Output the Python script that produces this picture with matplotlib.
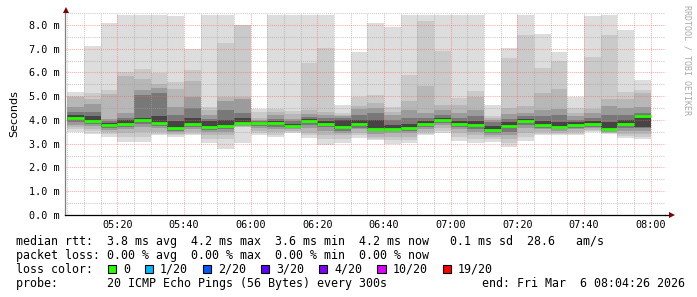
import numpy as np
import pandas as pd
import matplotlib
matplotlib.use("Agg")
import matplotlib.pyplot as plt
import matplotlib.dates as mdates
import matplotlib.ticker as mticker
from matplotlib.patches import Rectangle
from matplotlib.lines import Line2D

# ---------------- data (milliseconds), one value per 5-minute slot ----------------
first_slot = "2026-03-06 05:05"
view_start = "2026-03-06 05:04:26"
view_end = "2026-03-06 08:04:26"

ping_max = [5.17, 7.13, 8.10, 8.42, 8.42, 8.42, 8.38, 6.98, 8.42, 8.42, 8.02, 4.45, 8.42, 8.42, 8.42, 8.42, 4.63, 6.88,
            8.10, 7.93, 8.42, 8.42, 8.42, 8.42, 8.42, 4.63, 7.02, 8.42, 7.62, 6.88, 4.98, 8.38, 8.42, 7.79, 5.68]
ping_19 = [5.01, 5.15, 5.26, 6.00, 6.15, 5.96, 5.61, 6.11, 4.56, 7.23, 8.00, 4.35, 4.45, 4.38, 6.41, 7.02, 4.30, 4.95,
           5.05, 4.53, 5.89, 8.18, 6.92, 4.94, 5.20, 4.17, 6.60, 7.58, 6.18, 6.50, 4.49, 6.67, 7.58, 5.19, 5.26]
ping_18 = [4.95, 4.90, 5.10, 5.87, 5.73, 5.50, 5.30, 5.66, 4.40, 4.95, 4.95, 4.10, 4.35, 4.25, 4.42, 4.35, 4.20, 4.60,
           4.70, 4.35, 4.81, 5.43, 4.63, 4.63, 4.95, 4.08, 4.50, 4.59, 5.12, 5.30, 4.30, 4.45, 4.90, 4.87, 5.15]
ping_16 = [4.56, 4.67, 4.05, 4.30, 5.25, 5.35, 4.56, 4.98, 4.20, 4.80, 4.90, 4.00, 4.20, 4.05, 4.25, 4.20, 4.15, 4.45,
           4.50, 4.20, 4.40, 4.30, 4.42, 4.30, 4.40, 4.00, 4.25, 4.30, 4.40, 4.45, 4.15, 4.30, 4.60, 4.50, 4.56]
ping_14 = [4.35, 4.35, 3.95, 4.10, 5.05, 5.15, 4.20, 4.50, 4.05, 4.40, 4.30, 3.96, 4.05, 3.95, 4.12, 4.08, 4.10, 4.20,
           4.30, 4.02, 4.10, 4.10, 4.20, 4.10, 4.15, 3.90, 4.05, 4.15, 4.15, 4.20, 4.00, 4.10, 4.20, 4.20, 4.30]
ping_12 = [4.20, 4.15, 3.88, 3.98, 4.10, 4.15, 3.95, 4.10, 3.95, 4.00, 4.10, 3.92, 3.95, 3.85, 4.05, 3.95, 4.00, 4.00,
           4.02, 3.80, 3.85, 3.95, 4.07, 3.95, 3.97, 3.75, 3.90, 4.05, 3.95, 3.90, 3.90, 3.95, 3.90, 4.00, 4.20]
median = [4.08, 3.96, 3.78, 3.85, 4.01, 3.87, 3.66, 3.82, 3.70, 3.75, 3.86, 3.87, 3.87, 3.75, 3.96, 3.85, 3.69, 3.82,
          3.64, 3.64, 3.68, 3.85, 4.00, 3.85, 3.79, 3.58, 3.75, 3.97, 3.80, 3.72, 3.81, 3.82, 3.60, 3.85, 4.17]
ping_9 = [4.00, 3.90, 3.72, 3.78, 3.95, 3.82, 3.62, 3.78, 3.65, 3.70, 3.82, 3.83, 3.80, 3.70, 3.90, 3.80, 3.63, 3.75,
          3.60, 3.60, 3.62, 3.80, 3.95, 3.78, 3.72, 3.52, 3.65, 3.90, 3.75, 3.67, 3.75, 3.78, 3.57, 3.78, 3.72]
ping_7 = [3.90, 3.83, 3.65, 3.70, 3.85, 3.75, 3.55, 3.70, 3.58, 3.62, 3.78, 3.75, 3.72, 3.65, 3.80, 3.70, 3.55, 3.68,
          3.52, 3.55, 3.55, 3.72, 3.87, 3.70, 3.62, 3.45, 3.50, 3.80, 3.68, 3.60, 3.68, 3.72, 3.53, 3.68, 3.65]
ping_5 = [3.80, 3.75, 3.58, 3.60, 3.72, 3.65, 3.50, 3.62, 3.50, 3.50, 3.75, 3.65, 3.60, 3.60, 3.65, 3.55, 3.45, 3.60,
          3.42, 3.45, 3.45, 3.60, 3.78, 3.60, 3.50, 3.38, 3.35, 3.65, 3.60, 3.52, 3.60, 3.65, 3.50, 3.55, 3.55]
ping_3 = [3.70, 3.60, 3.48, 3.45, 3.50, 3.50, 3.42, 3.50, 3.38, 3.35, 3.72, 3.55, 3.48, 3.55, 3.45, 3.35, 3.35, 3.45,
          3.30, 3.30, 3.30, 3.50, 3.65, 3.45, 3.35, 3.28, 3.20, 3.45, 3.50, 3.45, 3.50, 3.58, 3.47, 3.42, 3.42]
ping_2 = [3.62, 3.52, 3.40, 3.30, 3.30, 3.42, 3.36, 3.43, 3.20, 3.19, 3.70, 3.45, 3.38, 3.50, 3.35, 3.20, 3.20, 3.35,
          3.22, 3.15, 3.15, 3.42, 3.55, 3.28, 3.18, 3.18, 3.05, 3.30, 3.43, 3.40, 3.42, 3.55, 3.45, 3.33, 3.30]
ping_min = [3.48, 3.40, 3.30, 3.09, 3.09, 3.37, 3.30, 3.37, 3.04, 2.76, 3.03, 3.37, 3.30, 3.45, 3.24, 2.95, 3.05, 3.24,
            3.16, 2.99, 3.04, 3.37, 3.47, 3.13, 3.02, 3.09, 2.88, 3.13, 3.37, 3.35, 3.37, 3.50, 3.43, 3.26, 3.22]

y_ticks = [0, 1, 2, 3, 4, 5, 6, 7, 8]

loss_labels = ["0", "1/20", "2/20", "3/20", "4/20", "10/20", "19/20"]
loss_colors = ["#26ff00", "#00b8ff", "#0059ff", "#5e00ff", "#7e00ff", "#dd00ff", "#ff0000"]

stats_line = "median rtt:  3.8 ms avg  4.2 ms max  3.6 ms min  4.2 ms now   0.1 ms sd  28.6   am/s"
loss_line = "packet loss: 0.00 % avg  0.00 % max  0.00 % min  0.00 % now"
probe_line = "probe:       20 ICMP Echo Pings (56 Bytes) every 300s"
end_line = "end: Fri Mar  6 08:04:26 2026"
watermark = "RRDTOOL / TOBI OETIKER"

# ---------------- figure ----------------
W, H = 697, 297
fig = plt.figure(figsize=(W / 100, H / 100), dpi=100, facecolor="white")
ax_left, ax_right, ax_top, ax_bottom = 65.4, 665.4, 13.1, 215.0
ax = fig.add_axes([ax_left / W, 1 - ax_bottom / H, (ax_right - ax_left) / W, (ax_bottom - ax_top) / H])
ax.set_facecolor("white")

n = len(median)
edges = pd.date_range(first_slot, periods=n + 1, freq="5min")


def ext(a):
    a = np.asarray(a, dtype=float)
    return np.r_[a, a[-1]]


bands = [
    (ping_min, ping_max, "#dddddd"),
    (ping_2, ping_19, "#cacaca"),
    (ping_3, ping_18, "#b7b7b7"),
    (ping_5, ping_16, "#9b9b9b"),
    (ping_7, ping_14, "#787878"),
    (ping_9, ping_12, "#454545"),
]
for lo, hi, c in bands:
    ax.fill_between(edges, ext(lo), ext(hi), step="post", color=c, linewidth=0, zorder=1)

ax.hlines(median, mdates.date2num(edges[:-1]), mdates.date2num(edges[1:]),
          color=loss_colors[0], linewidth=2.0, zorder=3, capstyle="butt")

ax.set_xlim(pd.Timestamp(view_start), pd.Timestamp(view_end))
ax.set_ylim(0, 8.5)

ax.xaxis.set_major_locator(mdates.MinuteLocator(byminute=[0, 20, 40]))
ax.xaxis.set_minor_locator(mdates.MinuteLocator(byminute=range(0, 60, 5)))
ax.xaxis.set_major_formatter(mdates.DateFormatter("%H:%M"))
ax.yaxis.set_major_locator(mticker.FixedLocator(y_ticks))
ax.yaxis.set_minor_locator(mticker.MultipleLocator(0.5))
ax.yaxis.set_major_formatter(mticker.FuncFormatter(lambda v, p: f"{v:.1f} m"))

ax.set_axisbelow(False)
ax.grid(which="major", color="#ff5f5f", alpha=0.5, linestyle=(0, (1, 1)), linewidth=0.75)
ax.grid(which="minor", color="#a0a0a0", alpha=0.55, linestyle=(0, (1, 1)), linewidth=0.75)

mono = "DejaVu Sans Mono"
ax.tick_params(which="both", length=0)
ax.tick_params(axis="y", pad=4.5)
ax.tick_params(axis="x", pad=3.5)
for lab in ax.get_xticklabels() + ax.get_yticklabels():
    lab.set_fontfamily(mono)
    lab.set_fontsize(7.3)

for s in ("top", "right"):
    ax.spines[s].set_visible(False)
ax.spines["left"].set_color("#808080")
ax.spines["left"].set_linewidth(0.9)
ax.spines["bottom"].set_color("#000000")
ax.spines["bottom"].set_linewidth(0.9)

ax.set_ylabel("Seconds", fontsize=8, family="DejaVu Sans", labelpad=7)


def fx(px):
    return px / W


def fy(py):
    return 1 - py / H


# axis extensions and arrows
fig.add_artist(Line2D([fx(ax_left), fx(ax_left)], [fy(ax_top), fy(10.5)], color="#808080", lw=0.9,
                      transform=fig.transFigure))
fig.add_artist(Line2D([fx(ax_right), fx(670)], [fy(ax_bottom), fy(ax_bottom)], color="#000000", lw=0.9,
                      transform=fig.transFigure))
fig.add_artist(Line2D([fx(ax_left + 0.4)], [fy(10.0)], marker="^", markersize=4.2, color="#7f0000",
                      markeredgewidth=0, transform=fig.transFigure))
fig.add_artist(Line2D([fx(671.5)], [fy(ax_bottom)], marker=">", markersize=4.2, color="#7f0000",
                      markeredgewidth=0, transform=fig.transFigure))

# watermark
fig.text(fx(687.5), fy(60), watermark, rotation=270, ha="center", va="center", fontsize=6,
         family=mono, color="#aaaaaa")

# legend text
fs = 8.4
cw = 7.02
x0 = 16
fig.text(fx(x0), fy(241.3), stats_line, family=mono, fontsize=fs, va="center", ha="left")
fig.text(fx(x0), fy(255.3), loss_line, family=mono, fontsize=fs, va="center", ha="left")
fig.text(fx(x0), fy(269.3), "loss color:", family=mono, fontsize=fs, va="center", ha="left")
fig.text(fx(x0), fy(283.3), probe_line, family=mono, fontsize=fs, va="center", ha="left")
fig.text(fx(684.5), fy(283.3), end_line, family=mono, fontsize=fs, va="center", ha="right")

bx = 107.5
box = 8.2
for lab, c in zip(loss_labels, loss_colors):
    fig.add_artist(Rectangle((fx(bx), fy(268.6 + box / 2)), box / W, box / H, transform=fig.transFigure,
                             facecolor=c, edgecolor="#000000", linewidth=0.8))
    lx = bx + 15.5
    fig.text(fx(lx), fy(269.3), lab, family=mono, fontsize=fs, va="center", ha="left")
    bx = lx + len(lab) * cw + 14.6

fig.savefig("out.png", dpi=100, facecolor="white")
